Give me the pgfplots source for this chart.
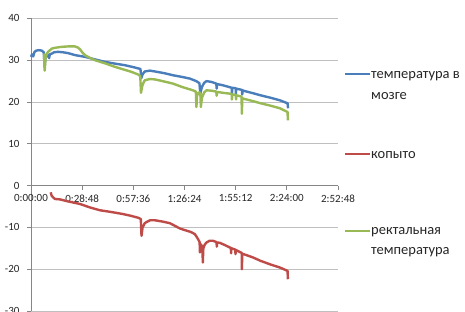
\documentclass[border=0pt]{standalone}
\usepackage{pgfplots}
\pgfplotsset{compat=1.18}
\usepackage{fontspec}
\setmainfont{Carlito}
\definecolor{cblue}{HTML}{4A7EBB}
\definecolor{cred}{HTML}{BE4B48}
\definecolor{cgreen}{HTML}{98B954}
\definecolor{gridc}{HTML}{BFBFBF}
\definecolor{axc}{HTML}{868686}
\definecolor{txt}{HTML}{262626}
\begin{document}
\begin{tikzpicture}[x=1pt,y=1pt]
\begin{axis}[at={(31pt,0pt)}, anchor=south west, scale only axis,
  width=307pt, height=292.6pt,
  xmin=0, xmax=172.8, ymin=-30, ymax=40,
  axis x line=middle, axis y line=left,
  axis line style={-, axc, line width=0.8pt},
  hide obscured x ticks=false, hide obscured y ticks=false,
  xtick={0,28.8,57.6,86.4,115.2,144,172.8},
  xticklabels={0:00:00,0:28:48,0:57:36,1:26:24,1:55:12,2:24:00,2:52:48},
  ytick={-30,-20,-10,0,10,20,30,40},
  yticklabels={{-30},{-20},{-10},{0},{10},{20},{30},{40}},
  ymajorgrids, grid style={gridc, line width=0.8pt},
  tick style={axc, line width=0.8pt},
  tick align=outside, major tick length=4pt,
  ticklabel style={font=\fontsize{11}{13}\selectfont, text=txt},
  xticklabel style={anchor=north, yshift=-1.5pt},
  yticklabel style={anchor=east, xshift=-4pt},
  clip=false,
  every axis plot/.append style={line width=2.4pt, line join=round, mark=none},
]
% brain temperature
\addplot[cblue] coordinates {
(0,30.8) (0.6,31.4) (1.2,30.9) (2.0,32.0) (3.0,32.3) (4.5,32.4) (6.0,32.3) (7.2,31.9) (7.7,28.3) (8.1,30.6) (8.8,31.0) (9.6,31.3) (10.2,30.5) (10.6,31.4) (11.8,31.6) (13.0,31.9) (15.2,32.0) (18,31.9) (20.8,31.7) (25,31.2) (30.4,30.8) (36,30.2) (41.6,29.6) (47,29.2) (52.9,28.8) (58,28.3) (61.6,27.9) (62.1,25.7) (62.8,26.6) (64.0,27.3) (66.9,27.5) (69.8,27.3) (75,26.9) (79.9,26.4) (85,26.0) (89.4,25.6) (93.0,25.0) (94.8,24.5) (95.3,22.0) (96.2,23.6) (97.5,24.6) (98.8,25.0) (101.6,24.8) (104.3,24.4) (104.5,23.2) (104.8,24.3) (108,24.0) (111.4,23.6) (113.0,23.4) (113.1,22.0) (113.3,23.4) (115.2,23.3) (115.3,22.0) (115.5,23.2) (118.7,22.9) (118.9,21.8) (119.1,22.8) (120.4,22.6) (125,22.1) (129.2,21.6) (135,21.0) (140.1,20.4) (144.4,19.7) (144.7,18.5)
};
% hoof
\addplot[cred] coordinates {
(11.1,-1.6) (11.6,-2.4) (12.4,-2.8) (13.5,-3.2) (16.3,-3.3) (20,-3.7) (27.6,-4.4) (33,-5.2) (38.8,-5.9) (45,-6.3) (51.7,-6.8) (56,-7.2) (60.4,-7.7) (61.8,-8.0) (62.2,-12.0) (62.8,-10.0) (64,-9.0) (65.1,-8.7) (67,-8.3) (69.8,-8.3) (74,-8.6) (78.2,-9.0) (84,-10.3) (90,-11.1) (92.2,-11.6) (93.6,-12.5) (94.9,-13.5) (95.1,-16) (95.4,-14) (96.5,-14.6) (96.7,-18.4) (97.0,-15) (97.8,-14.1) (98.8,-13.6) (100.5,-13.2) (102.4,-13.2) (104.4,-13.5) (104.6,-14.6) (104.8,-13.6) (106.3,-13.7) (109,-14.2) (111.9,-14.8) (112.5,-14.9) (112.6,-16.2) (112.8,-15) (115,-15.3) (115.1,-16.4) (115.3,-15.4) (117.6,-15.9) (118.6,-16.1) (118.7,-20) (118.9,-16.3) (120.4,-16.5) (125,-17.2) (129.2,-18) (135,-18.9) (140.1,-19.6) (144.4,-20.4) (144.6,-22.4)
};
% rectal temperature
\addplot[cgreen] coordinates {
(7.3,31.6) (7.7,27.5) (8.2,30.6) (9.0,31.6) (9.6,32.0) (11.8,32.8) (14,33.0) (17.3,33.2) (21,33.3) (24.7,33.3) (26.5,33.0) (27.6,32.6) (29,31.8) (30.4,31.2) (33,30.6) (36,30.0) (42,29.2) (47.3,28.4) (52,27.8) (56.6,27.2) (60.2,26.6) (61.5,26.2) (61.9,22.2) (62.6,23.8) (63.5,24.8) (64.1,25.2) (66.9,25.5) (69.8,25.4) (75,24.9) (79.9,24.4) (85,23.6) (91.1,22.8) (92.8,22.5) (93.1,18.8) (93.5,21.6) (94.5,22.3) (95.3,22.2) (95.6,18.8) (96.2,21.0) (97.5,22.3) (98.8,22.8) (101.6,22.7) (104.3,22.5) (104.5,21.5) (104.8,22.4) (108,22.2) (111.9,22.0) (113.0,21.9) (113.1,20.6) (113.3,21.8) (115.3,21.7) (115.4,20.6) (115.6,21.6) (118.5,21.3) (118.7,17.2) (118.9,20.9) (120.4,20.7) (125,20.2) (129.2,19.7) (135,19.1) (140.1,18.5) (144.4,17.6) (144.6,15.6)
};
\end{axis}
% legend
\begin{scope}[every node/.style={font=\fontsize{14.5}{16}\selectfont, text=txt, inner sep=0pt, anchor=mid west}]
\draw[cblue, line width=2.4pt] (345pt,237pt) -- (370pt,237pt);
\node at (371pt,234.5pt) {температура в};
\node at (371pt,214.3pt) {мозге};
\draw[cred, line width=2.4pt] (345pt,157pt) -- (370pt,157pt);
\node at (371pt,155pt) {копыто};
\draw[cgreen, line width=2.4pt] (345pt,80pt) -- (370pt,80pt);
\node at (371pt,79pt) {ректальная};
\node at (371pt,58.5pt) {температура};
\end{scope}
\pgfresetboundingbox
\useasboundingbox (0pt,0pt) rectangle (465pt,311pt);
\end{tikzpicture}
\end{document}
